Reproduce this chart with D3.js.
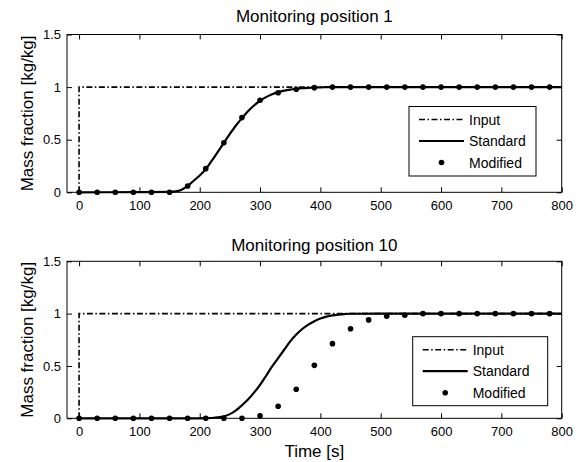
<!DOCTYPE html>
<html>
<head>
<meta charset="utf-8">
<script src="https://cdn.jsdelivr.net/npm/d3@7"></script>
<style>
  html, body { margin: 0; padding: 0; background: #fff; }
  svg { display: block; font-family: "Liberation Sans", Arial, sans-serif; }
</style>
</head>
<body>
<svg id="chart" width="579" height="462"></svg>
<script>
// ---------- data ----------
const titles = ["Monitoring position 1", "Monitoring position 10"];
const xTicks = [0, 100, 200, 300, 400, 500, 600, 700, 800];
const yTicks = [0, 0.5, 1, 1.5];
const yTickLabels = ["0", "0.5", "1", "1.5"];
const legendLabels = ["Input", "Standard", "Modified"];

const inputTime = [0, 0, 800];
const inputValue = [0, 1, 1];

const stdTime = [0, 100, 150, 160, 170, 180, 190, 200, 210, 220, 230, 240, 250, 260, 270, 280, 290, 300,
  310, 320, 330, 340, 350, 360, 370, 380, 390, 400, 410, 420, 430, 440, 450, 500, 600, 700, 800];
const stdPos1 = [0, 0.002, 0.004, 0.008, 0.025, 0.06, 0.11, 0.16, 0.22, 0.3, 0.385, 0.47, 0.555, 0.635, 0.705, 0.77, 0.825, 0.87,
  0.905, 0.932, 0.952, 0.966, 0.976, 0.983, 0.989, 0.993, 0.996, 0.998, 0.999, 1, 1, 1, 1, 1, 1, 1, 1];
const stdPos10 = [0, 0, 0, 0, 0, 0, 0, 0, 0.001, 0.003, 0.008, 0.018, 0.04, 0.075, 0.125, 0.18, 0.245, 0.32,
  0.405, 0.495, 0.575, 0.655, 0.735, 0.8, 0.853, 0.895, 0.928, 0.953, 0.971, 0.983, 0.991, 0.996, 0.999, 1, 1, 1, 1];

const modTime = [0, 30, 60, 90, 120, 150, 180, 210, 240, 270, 300, 330, 360, 390, 420, 450, 480, 510, 540,
  570, 600, 630, 660, 690, 720, 750, 780];
const modPos1 = [0, 0, 0, 0, 0, 0, 0.06, 0.225, 0.47, 0.71, 0.875, 0.946, 0.98, 0.995, 1, 1, 1, 1, 1,
  1, 1, 1, 1, 1, 1, 1, 1];
const modPos10 = [0, 0, 0, 0, 0, 0, 0, 0, 0, 0, 0.025, 0.115, 0.278, 0.506, 0.713, 0.855, 0.94, 0.975, 0.985,
  1, 1, 1, 1, 1, 1, 1, 1];

// ---------- layout ----------
const svg = d3.select("#chart");
const panels = [
  { title: titles[0], std: stdPos1, mod: modPos1, top: 34.5, bottom: 192.3, titleY: 22, legend: { x: 409, y: 106.5, w: 127, h: 69.5 } },
  { title: titles[1], std: stdPos10, mod: modPos10, top: 261.3, bottom: 418.3, titleY: 250.5, legend: { x: 412.7, y: 336.7, w: 135, h: 69 } }
];
const left = 67, right = 561.7;
const x = d3.scaleLinear().domain([-20, 800]).range([left, right]);

const inputDash = "6,2.5,1.5,2.5";

panels.forEach((p, idx) => {
  const y = d3.scaleLinear().domain([0, 1.5]).range([p.bottom, p.top]);
  const g = svg.append("g");

  // box
  g.append("rect").attr("x", left).attr("y", p.top).attr("width", right - left).attr("height", p.bottom - p.top)
    .attr("fill", "none").attr("stroke", "#000").attr("stroke-width", 1);

  // axes (inward ticks)
  const xb = g.append("g").attr("transform", `translate(0,${p.bottom})`)
    .call(d3.axisBottom(x).tickValues(xTicks).tickSizeInner(-5).tickSizeOuter(0).tickPadding(8).tickFormat(d3.format("d")));
  const xt = g.append("g").attr("transform", `translate(0,${p.top})`)
    .call(d3.axisTop(x).tickValues(xTicks).tickSizeInner(-5).tickSizeOuter(0).tickFormat(""));
  const yl = g.append("g").attr("transform", `translate(${left},0)`)
    .call(d3.axisLeft(y).tickValues(yTicks).tickSizeInner(-5).tickSizeOuter(0).tickPadding(6).tickFormat((d, i) => yTickLabels[i]));
  const yr = g.append("g").attr("transform", `translate(${right},0)`)
    .call(d3.axisRight(y).tickValues(yTicks).tickSizeInner(-5).tickSizeOuter(0).tickFormat(""));
  [xb, xt, yl, yr].forEach(a => {
    a.select(".domain").remove();
    a.selectAll("line").attr("stroke", "#000");
    a.selectAll("text").attr("fill", "#000").style("font-size", "13px").style("font-family", "Liberation Sans, Arial, sans-serif");
  });

  // title
  g.append("text").attr("x", (left + right) / 2).attr("y", p.titleY).attr("text-anchor", "middle")
    .style("font-size", "17px").text(p.title);

  // y label
  g.append("text").attr("transform", `translate(32.5,${(p.top + p.bottom) / 2}) rotate(-90)`)
    .attr("text-anchor", "middle").style("font-size", "17px").text("Mass fraction [kg/kg]");

  // input line
  const inputData = inputTime.map((t, i) => [t, inputValue[i]]);
  g.append("path").datum(inputData)
    .attr("d", d3.line().x(d => x(d[0])).y(d => y(d[1])))
    .attr("fill", "none").attr("stroke", "#000").attr("stroke-width", 1.6).attr("stroke-dasharray", inputDash);

  // standard line
  const stdData = stdTime.map((t, i) => [t, p.std[i]]);
  g.append("path").datum(stdData)
    .attr("d", d3.line().x(d => x(d[0])).y(d => y(d[1])).curve(d3.curveMonotoneX))
    .attr("fill", "none").attr("stroke", "#000").attr("stroke-width", 2.2);

  // modified points
  g.selectAll("circle.mod").data(modTime.map((t, i) => [t, p.mod[i]])).enter()
    .append("circle").attr("class", "mod")
    .attr("cx", d => x(d[0])).attr("cy", d => y(d[1])).attr("r", 2.8).attr("fill", "#000");

  // legend
  const L = p.legend;
  const lg = g.append("g");
  lg.append("rect").attr("x", L.x).attr("y", L.y).attr("width", L.w).attr("height", L.h)
    .attr("fill", "#fff").attr("stroke", "#000").attr("stroke-width", 1);
  const sx0 = L.x + 10, sx1 = L.x + 55, tx = L.x + 60;
  const rows = [L.y + 13, L.y + 34.5, L.y + 56];
  lg.append("line").attr("x1", sx0).attr("x2", sx1).attr("y1", rows[0]).attr("y2", rows[0])
    .attr("stroke", "#000").attr("stroke-width", 1.6).attr("stroke-dasharray", inputDash);
  lg.append("line").attr("x1", sx0).attr("x2", sx1).attr("y1", rows[1]).attr("y2", rows[1])
    .attr("stroke", "#000").attr("stroke-width", 2.2);
  lg.append("circle").attr("cx", (sx0 + sx1) / 2).attr("cy", rows[2]).attr("r", 2.8).attr("fill", "#000");
  legendLabels.forEach((lab, i) => {
    lg.append("text").attr("x", tx).attr("y", rows[i] + 5).style("font-size", "14px").text(lab);
  });
});

// x label
svg.append("text").attr("x", (left + right) / 2).attr("y", 457).attr("text-anchor", "middle")
  .style("font-size", "17px").text("Time [s]");
</script>
</body>
</html>
